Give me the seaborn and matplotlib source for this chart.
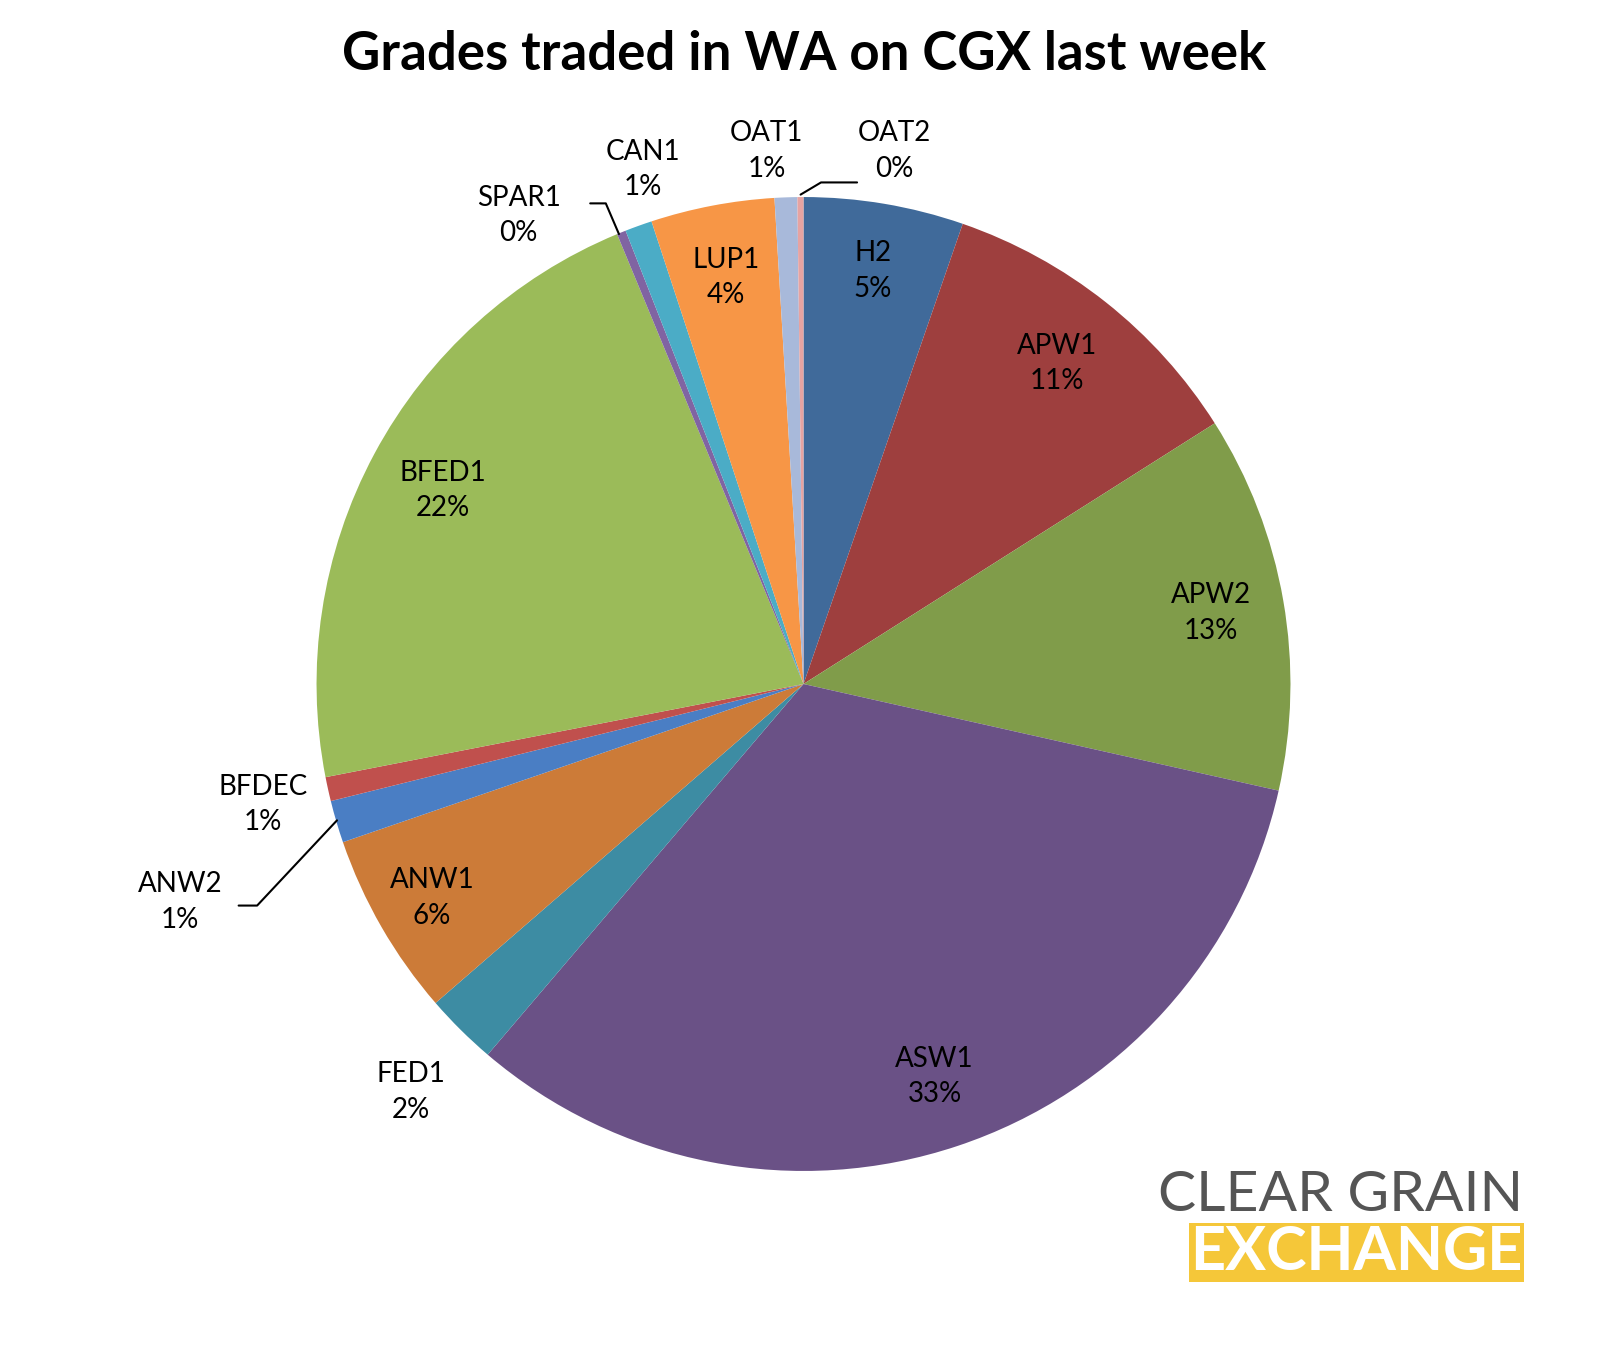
import matplotlib
matplotlib.use("Agg")
import matplotlib.pyplot as plt
import seaborn as sns
import numpy as np

sns.set_theme(style="white")
plt.rcParams['font.family'] = ['Lato', 'DejaVu Sans']

grades = ["H2", "APW1", "APW2", "ASW1", "FED1", "ANW1", "ANW2", "BFDEC",
          "BFED1", "SPAR1", "CAN1", "LUP1", "OAT1", "OAT2"]
shares = [5.3, 10.7, 12.5, 32.7, 2.4, 6.1, 1.4, 0.8, 21.8, 0.3, 0.9, 4.1, 0.75, 0.2]
pct_labels = ["5%", "11%", "13%", "33%", "2%", "6%", "1%", "1%", "22%", "0%", "1%", "4%", "1%", "0%"]
colors = ["#406A9A", "#9E3F3E", "#809C4A", "#6A5186", "#3D8CA3", "#CC7B38", "#4A7EC4",
          "#C0504D", "#9BBB59", "#8064A2", "#4BACC6", "#F79646", "#A8B9DA", "#E6A3A2"]

label_r = {"H2": 0.86, "APW1": 0.84, "APW2": 0.85, "ASW1": 0.85, "BFED1": 0.84,
           "LUP1": 0.85, "ANW1": 0.88}
outside = {"FED1": (-0.806, -0.838), "ANW2": (-1.28, -0.448), "BFDEC": (-1.11, -0.248),
           "SPAR1": (-0.585, 0.962), "CAN1": (-0.33, 1.057), "OAT1": (-0.076, 1.095),
           "OAT2": (0.187, 1.095)}
leaders = {"OAT2": [(-0.006, 1.005), (0.036, 1.03), (0.11, 1.03)],
           "SPAR1": [(-0.379, 0.924), (-0.406, 0.987), (-0.438, 0.987)],
           "ANW2": [(-0.958, -0.28), (-1.122, -0.455), (-1.16, -0.455)]}

fig = plt.figure(figsize=(16.08, 13.51), dpi=100)
ax = fig.add_axes([24 / 1608, -5 / 1351, 1559 / 1608, 1344 / 1351])

wedges, _ = ax.pie(shares, colors=colors, startangle=90, counterclock=False,
                   radius=1.0, wedgeprops=dict(linewidth=0))
ax.set_xlim(-1.6, 1.6)
ax.set_ylim(-1.38, 1.38)
ax.set_aspect("equal")
ax.axis("off")

total = sum(shares)
cum = 0
for g, s, p in zip(grades, shares, pct_labels):
    mid = 90 - (cum + s / 2) / total * 360
    cum += s
    if g in outside:
        x, y = outside[g]
    else:
        r = label_r[g]
        x, y = r * np.cos(np.radians(mid)), r * np.sin(np.radians(mid))
    ax.text(x, y, f"{g}\n{p}", ha="center", va="center", fontsize=20,
            linespacing=1.45, color="black")
    if g in leaders:
        xs, ys = zip(*leaders[g])
        ax.plot(xs, ys, color="black", lw=1.5)

fig.text(0.5, 0.96, "Grades traded in WA on CGX last week", ha="center", va="center",
         fontsize=38, fontweight="bold", color="black")

fig.text(0.947, 0.115, "CLEAR GRAIN", ha="right", va="center", fontsize=41,
         color="#555555")
fig.text(0.947, 0.073, "EXCHANGE", ha="right", va="center", fontsize=44,
         fontweight="bold", color="white",
         bbox=dict(facecolor="#F5C739", edgecolor="none", pad=1))

fig.savefig("out.png", dpi=100, facecolor="white")
